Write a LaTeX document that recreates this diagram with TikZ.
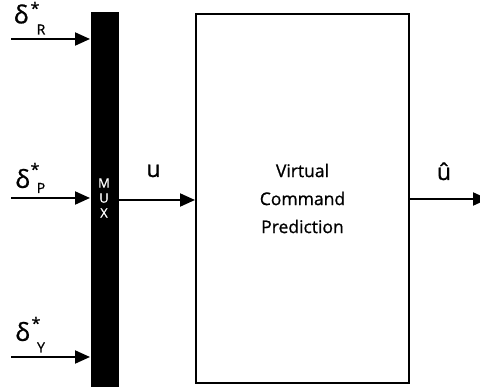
\documentclass[tikz,border=0pt]{standalone}
\usepackage{fontspec}
\setmainfont{Open Sans}[RawFeature={embolden=0.9}]
\usetikzlibrary{arrows.meta}
\begin{document}
\begin{tikzpicture}[x=1pt,y=-1pt,line width=2pt,
  sig/.style={-{Triangle[length=15pt,width=13pt]}},
  dl/.style={inner sep=0pt,font=\fontsize{25}{26}\selectfont},
  st/.style={inner sep=0pt,font=\fontsize{16}{17}\selectfont},
  sb/.style={inner sep=0pt,font=\fontsize{14}{15}\selectfont},
  ul/.style={inner sep=0pt,anchor=base,font=\fontsize{23}{24}\selectfont}]
\useasboundingbox (0,0) rectangle (480,387);
\clip (0,0) rectangle (480,387);
% MUX bar
\node[fill=black,draw=none,minimum width=28pt,minimum height=380pt,inner sep=0pt,anchor=north west] (mux) at (90,11) {};
\node[text=white,inner sep=0pt,align=center,font=\fontsize{13}{15}\selectfont] (muxlbl) at (104,198) {M\\U\\X};
% main block
\node[draw,line width=2pt,minimum width=213pt,minimum height=369pt,inner sep=0pt,align=center,
      font=\fontsize{17.5}{28}\selectfont] (vcp) at (302.5,198.5) {Virtual\\Command\\Prediction};
% inputs
\coordinate (inR) at (11,39);
\coordinate (inP) at (11,198);
\coordinate (inY) at (11,357);
\draw[sig] (inR) -- (inR -| mux.west);
\draw[sig] (inP) -- (inP -| mux.west);
\draw[sig] (inY) -- (inY -| mux.west);
% labels of inputs
\node[dl] (dR) at (21,14) {δ};
\node[st] (sR) at (35,8) {*};
\node[sb] (rR) at (41,29.5) {R};
\node[dl] (dP) at (22.5,178.5) {δ};
\node[st] (sP) at (35,169) {*};
\node[sb] (rP) at (41,188) {P};
\node[dl] (dY) at (22.5,331.5) {δ};
\node[st] (sY) at (36,323) {*};
\node[sb] (rY) at (41,347.5) {Y};
% u
\coordinate (uin) at (118,200);
\draw[sig] (uin) -- (uin -| vcp.west);
\node[ul] (ulbl) at (153.5,177) {u};
% output
\coordinate (out) at (488,199);
\draw[sig] (vcp.east |- out) -- (out);
\node[ul] (uhat) at (444,180) {û};
\end{tikzpicture}
\end{document}
